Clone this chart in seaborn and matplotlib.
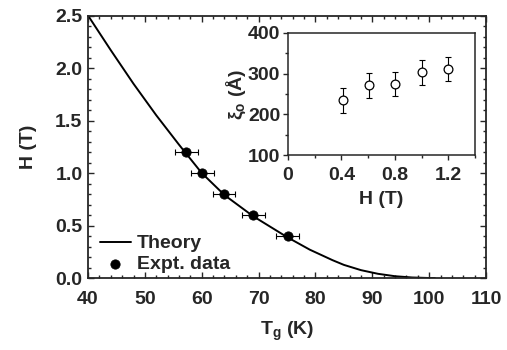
import matplotlib
matplotlib.use("Agg")
import matplotlib.pyplot as plt
import numpy as np
import pandas as pd
import seaborn as sns
from matplotlib.ticker import MultipleLocator, FormatStrFormatter, FuncFormatter

# Curva teórica
T_teoria = [40, 44, 48, 52, 56, 60, 64, 69, 75, 79, 83, 85, 88, 91, 94, 97, 100, 101]
H_teoria = [2.5, 2.17, 1.85, 1.55, 1.27, 1.0, 0.79, 0.59, 0.39, 0.27, 0.17, 0.125, 0.075,
            0.04, 0.017, 0.005, 0.0, 0.0]

# Datos experimentales
T_exp = [57.3, 60.1, 63.9, 69.1, 75.1]
H_exp = [1.2, 1.0, 0.8, 0.6, 0.4]
T_err = [2.0, 2.0, 2.0, 2.0, 2.0]

# Recuadro: longitud de correlación
H_ins = [0.41, 0.61, 0.80, 1.0, 1.2]
xi_ins = [234, 271, 275, 303, 312]
xi_err = [30, 30, 30, 30, 30]

sns.set_style("ticks")
plt.rcParams['font.family'] = ['Liberation Sans', 'DejaVu Sans']
plt.rcParams['font.weight'] = 'bold'
plt.rcParams['axes.labelweight'] = 'bold'
plt.rcParams['mathtext.default'] = 'regular'

FS = 14

fig = plt.figure(figsize=(5.07, 3.5), dpi=100)
ax = fig.add_axes([0.1736, 0.2057, 0.785, 0.75])

df_teoria = pd.DataFrame({'T': T_teoria, 'H': H_teoria})
df_exp = pd.DataFrame({'T': T_exp, 'H': H_exp})

sns.lineplot(data=df_teoria, x='T', y='H', ax=ax, color='black', linewidth=1.4,
             label='Theory', sort=False)
ax.errorbar(T_exp, H_exp, xerr=T_err, fmt='none', ecolor='black', elinewidth=0.8,
            capsize=2, capthick=0.8)
sns.scatterplot(data=df_exp, x='T', y='H', ax=ax, color='black', s=45,
                edgecolor='black', label='Expt. data', zorder=5)

ax.set_xlim(40, 110)
ax.set_ylim(0, 2.5)
ax.xaxis.set_major_locator(MultipleLocator(10))
ax.xaxis.set_minor_locator(MultipleLocator(2))
ax.yaxis.set_major_locator(MultipleLocator(0.5))
ax.yaxis.set_minor_locator(MultipleLocator(0.1))
ax.yaxis.set_major_formatter(FormatStrFormatter('%.1f'))
ax.tick_params(which='both', direction='in', top=True, right=True, labelsize=FS, width=1.0)
ax.tick_params(which='major', length=4, pad=4)
ax.tick_params(axis='x', which='major', pad=9)
ax.tick_params(which='minor', length=2.5)
for s in ax.spines.values():
    s.set_linewidth(1.3)
ax.set_xlabel(r'T$_{g}$ (K)', fontsize=FS, fontweight='bold', labelpad=9)
ax.set_ylabel('H (T)', fontsize=FS, fontweight='bold', labelpad=13)

leg = ax.legend(loc='lower left', frameon=False, fontsize=FS, handlelength=1.6,
                handletextpad=0.3, labelspacing=0.15, borderaxespad=0.0,
                bbox_to_anchor=(0.01, -0.01))

# Recuadro
axi = fig.add_axes([0.568, 0.557, 0.369, 0.349])
axi.errorbar(H_ins, xi_ins, yerr=xi_err, fmt='none', ecolor='black', elinewidth=0.8,
             capsize=2, capthick=0.8)
sns.scatterplot(x=H_ins, y=xi_ins, ax=axi, facecolor='white', edgecolor='black',
                s=40, linewidth=0.9, zorder=5)
axi.set_xlim(0, 1.4)
axi.set_ylim(100, 400)
axi.xaxis.set_major_locator(MultipleLocator(0.4))
axi.xaxis.set_minor_locator(MultipleLocator(0.2))
axi.yaxis.set_major_locator(MultipleLocator(100))
axi.yaxis.set_minor_locator(MultipleLocator(50))
axi.xaxis.set_major_formatter(FuncFormatter(lambda v, p: '0' if v == 0 else f'{v:.1f}'))
axi.tick_params(which='both', direction='out', labelsize=FS, width=1.0)
axi.tick_params(which='major', length=3.5, pad=2)
axi.tick_params(axis='x', which='major', pad=5)
axi.tick_params(which='minor', length=2.5)
for s in axi.spines.values():
    s.set_linewidth(1.1)
axi.set_xlabel('H (T)', fontsize=FS, fontweight='bold', labelpad=5)
axi.set_ylabel(r'ξ$_{o}$ (Å)', fontsize=FS, fontweight='bold', labelpad=0)

fig.savefig('out.png', dpi=100)
